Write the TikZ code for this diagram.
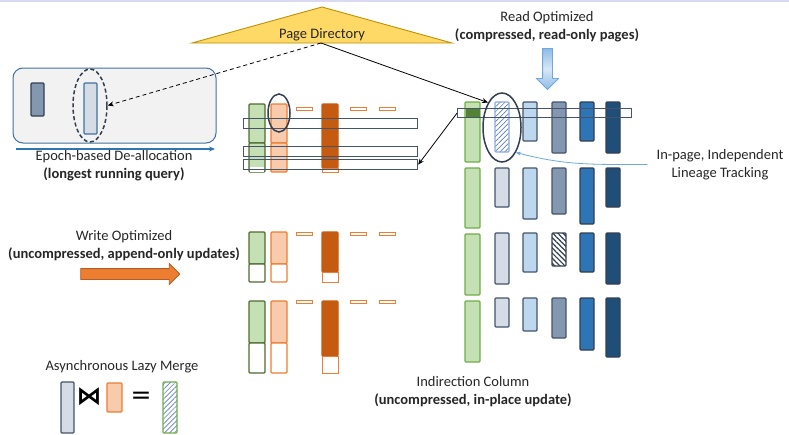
\documentclass[tikz,border=0pt]{standalone}
\usepackage{fontspec}
\setmainfont{Carlito}
\newfontfamily\symfont{DejaVu Sans}
\usepackage{tikz}
\usetikzlibrary{arrows.meta,positioning,shapes.geometric,shapes.arrows,patterns.meta}
\definecolor{ink}{HTML}{262626}
\definecolor{lavender}{HTML}{D9DAF2}
\definecolor{pdfill}{HTML}{FFD966}
\definecolor{pdline}{HTML}{BF9000}
\definecolor{boxgray}{HTML}{F2F2F2}
\definecolor{boxline}{HTML}{41719C}
\definecolor{slate}{HTML}{44546A}
\definecolor{slated}{HTML}{333F50}
\definecolor{epblue}{HTML}{2E75B6}
\definecolor{wgreen}{HTML}{C5E0B4}
\definecolor{dgreen}{HTML}{4E6B30}
\definecolor{igreen}{HTML}{70AD47}
\definecolor{dkgreen}{HTML}{548235}
\definecolor{lorange}{HTML}{F8CBAD}
\definecolor{orng}{HTML}{ED7D31}
\definecolor{dorange}{HTML}{C55A11}
\definecolor{lgray}{HTML}{D6DCE5}
\definecolor{lblue}{HTML}{BDD7EE}
\definecolor{gblue}{HTML}{8497B0}
\definecolor{mblue}{HTML}{2E75B6}
\definecolor{navy}{HTML}{1F4E79}
\definecolor{hblue}{HTML}{5B7FC4}
\definecolor{hline}{HTML}{8FAADC}
\definecolor{arblue}{HTML}{8FBBE6}
\definecolor{arline}{HTML}{6FA8DC}

\begin{document}
\begin{tikzpicture}[x=1pt,y=-1pt,
  txt/.style={font=\fontsize{14.5}{17.5}\selectfont,text=ink,align=center,inner sep=0pt},
  page/.style={rounded corners=1pt,line width=1.1pt},
  pgray/.style={page,fill=lgray,draw=slate},
  pblue/.style={page,fill=lblue,draw=slate},
  pgblue/.style={page,fill=gblue,draw=slate},
  pmblue/.style={page,fill=mblue,draw=slated},
  pnavy/.style={page,fill=navy,draw=slated},
  hatchb/.style={page,draw=hline,preaction={fill=white},pattern={Lines[angle=45,distance=3.5pt,line width=0.7pt]},pattern color=hblue},
  hatchk/.style={page,draw=slated,preaction={fill=white},pattern={Lines[angle=-45,distance=3.6pt,line width=1.2pt]},pattern color=slated},
  hatchg/.style={page,draw=igreen,preaction={fill=white},pattern={Lines[angle=45,distance=3.5pt,line width=0.7pt]},pattern color=hblue},
  tail/.style={draw=orng,line width=1pt,fill=white},
  bar/.style={rectangle,draw=slate,line width=1.2pt,inner sep=0pt,anchor=north west,minimum width=174pt,minimum height=10pt},
  oval/.style={ellipse,draw=slated,line width=1.5pt,inner sep=0pt},
  arrow/.style={-{Stealth[length=6pt,width=5pt]},line width=0.8pt},
  fat/.style={single arrow,inner xsep=0pt,line width=0.8pt},
  sym/.style={inner sep=0pt,text=black}
]
\useasboundingbox (0,0) rectangle (789,434);
\fill[lavender] (0,0) rectangle (789,1.8);

% page directory
\filldraw[fill=pdfill,draw=pdline,line width=0.9pt] (192,43) -- (322,7) -- (452,43) -- cycle;
\node[txt,anchor=base] (pd) at (322,38) {Page Directory};
\coordinate (pdb) at (321,43);

% epoch-based de-allocation
\draw[fill=boxgray,draw=boxline,line width=1pt,rounded corners=10pt] (13,68) rectangle (216,143);
\draw[page,fill=gblue,draw=slated] (31,83) rectangle (44,116);
\draw[page,fill=lgray,draw=boxline] (84,83) rectangle (97,134);
\node[oval,dash pattern=on 4pt off 2.5pt,minimum width=34pt,minimum height=73pt] (dell) at (90,105.5) {};
\coordinate (ep0) at (16,149);
\coordinate (ep1) at (215,149);
\draw[-{Stealth[length=6pt,width=5pt]},draw=epblue,line width=1.2pt] (ep0) -- (ep1);
\node[txt,anchor=base] (epoch) at (114,178) {Epoch-based De-allocation\\\textbf{(longest running query)}};

% tail pages
\foreach \t/\m/\b/\d/\s/\lg/\lo in {104/143/172/168/107/wgreen/lorange, 232/264/282/272/232/white/white, 301/343/373/356/300/white/white} {
  \draw[page,fill=wgreen,draw=dgreen] (249,\t) rectangle (265,\m);
  \draw[page,fill=\lg,draw=dgreen] (249,\m) rectangle (265,\b);
  \draw[page,fill=lorange,draw=orng] (271,\t) rectangle (287,\m);
  \draw[page,fill=\lo,draw=orng] (271,\m) rectangle (287,\b);
  \draw[page,fill=dorange,draw=dorange] (322,\t) rectangle (338,\d);
  \draw[tail] (322,\d) rectangle (338,\b);
  \foreach \dx in {296,350,379}
    \draw[tail] (\dx,\s) rectangle (\dx+16,\s+3.5);
}
\fill[white] (250,167) rectangle (264,172);
\node[bar] (mbar1) at (243,118) {};
\node[bar] (mbar2) at (243,146) {};
\node[bar] (mbar3) at (243,159) {};
\node[oval,minimum width=22pt,minimum height=38pt] (mov) at (279,113) {};

% base pages
\foreach \t/\b in {102/162,168/228,234/295,301/362}
  \draw[page,fill=wgreen,draw=igreen] (465,\t) rectangle (480,\b);
\fill[dkgreen] (466,108) rectangle (479.5,117);
\draw[hatchb] (495,102) rectangle (509,152);
\foreach \t/\cols in {102/{pblue/523/141,pgblue/552/153,pmblue/580/141,pnavy/606/153},
    168/{pgray/495/207,pblue/523/219,pgblue/552/214,pmblue/580/224,pnavy/606/207},
    233/{pgray/495/284,pblue/523/272,hatchk/552/266,pmblue/580/272,pnavy/606/284},
    298/{pgray/495/327,pblue/523/331,pgblue/552/338,pmblue/580/350,pnavy/606/357}}
  \foreach \s/\x/\b in \cols
    \draw[\s] (\x,\t) rectangle (\x+14,\b);
\node[bar,minimum height=9pt] (rbar) at (457,108) {};
\node[oval,minimum width=38pt,minimum height=69pt] (rov) at (502,127.5) {};

\node[txt,anchor=base] (ro) at (547,39) {Read Optimized\\\textbf{(compressed, read-only pages)}};
\node[fat,rotate=-90,draw=arline,top color=arblue,bottom color=arblue,middle color=arblue!35,minimum height=41pt,inner ysep=4.5pt,single arrow head extend=6pt] (rarr) at (547.5,66.5) {};

\node[txt,anchor=base] (lin) at (720,177) {In-page, Independent\\Lineage Tracking};
\node[txt,anchor=base] (ic) at (473,404) {Indirection Column\\\textbf{(uncompressed, in-place update)}};

% connectors
\draw[arrow,dash pattern=on 4pt off 3pt] (pdb) -- (dell.east);
\draw[arrow] (pdb) -- (rov.north west);
\draw[arrow] (rbar.west) -- (mbar3.east);
\draw[-{Stealth[length=5pt,width=4pt]},draw=arline,line width=0.8pt] ([xshift=-9pt]lin.west) to[out=180,in=-15] (rov.south east);

% write optimized
\node[txt,anchor=base] (wo) at (124,258) {Write Optimized\\\textbf{(uncompressed, append-only updates)}};
\node[fat,fill=orng,draw=orng!75!black,minimum height=99pt,inner ysep=5pt,single arrow head extend=5pt] (warr) at (127.5,274) {};

% lazy merge
\node[txt,anchor=base] (lm) at (122,370) {Asynchronous Lazy Merge};
\draw[pgray] (61,382) rectangle (74,433);
\node[sym,font=\symfont\bfseries\fontsize{25}{25}\selectfont] (bowtie) at (89,397) {⋈};
\draw[page,fill=lorange,draw=orng] (107,383) rectangle (122,412);
\node[sym,font=\symfont\fontsize{25}{25}\selectfont] (eq) at (141,398) {=};
\draw[hatchg] (163,382) rectangle (177,433);
\end{tikzpicture}
\end{document}
